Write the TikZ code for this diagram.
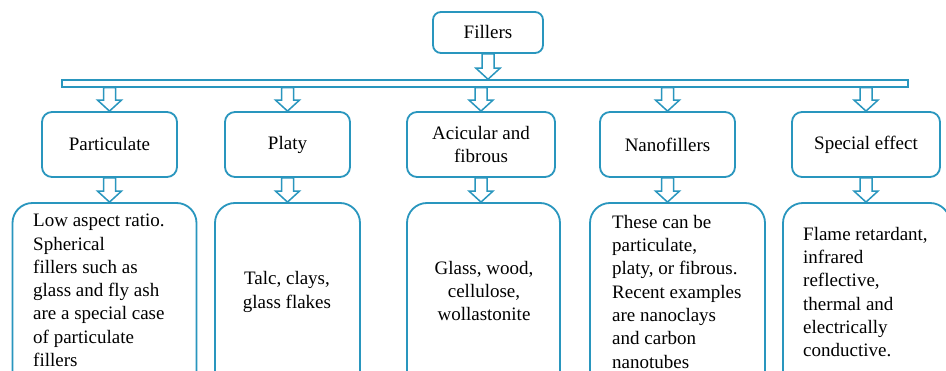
\documentclass[tikz,border=0pt]{standalone}
\usepackage{fontspec}
\setmainfont{Liberation Serif}
\newfontfamily\tnr{Liberation Serif}
\usetikzlibrary{calc}
\definecolor{fb}{RGB}{41,150,190}
\tikzset{
  box/.style={draw=fb, line width=1.8pt, fill=white, rounded corners=10pt, inner sep=2pt, align=center, font=\tnr\fontsize{19}{23}\selectfont},
  descbox/.style={draw=fb, line width=1.8pt, fill=white, rounded corners=20pt},
  barbox/.style={draw=fb, line width=1.5pt, fill=white, inner sep=0pt},
  harrow/.style={draw=fb, line width=1.5pt, fill=white, line join=miter},
  desctext/.style={inner sep=0pt, font=\tnr\fontsize{19}{23.3}\selectfont},
}
\newcommand{\hollowarrow}[3]{%
  \path[harrow] let \p1=(#1), \p2=(#2), \p3=(#3) in
    (\x3-6pt,\y1) -- (\x3+6pt,\y1) -- (\x3+6pt,\y2+11pt) -- (\x3+12pt,\y2+11pt)
    -- (\x3,\y2) -- (\x3-12pt,\y2+11pt) -- (\x3-6pt,\y2+11pt) -- cycle;}
\begin{document}
\begin{tikzpicture}[x=1pt,y=-1pt]
\useasboundingbox (0,0) rectangle (946,371);
\begin{scope}
\clip (0,0) rectangle (946,371);
\fill[white] (0,0) rectangle (946,371);
% top
\node[box, minimum width=110pt, minimum height=41pt, rounded corners=8pt] (fillers) at (488,32.5) {Fillers};
\node[barbox, minimum width=846pt, minimum height=7pt] (bar) at (485,83.5) {};
% middle row
\node[box, minimum width=135pt, minimum height=65pt] (part) at (109.5,144.5) {Particulate};
\node[box, minimum width=125pt, minimum height=65pt] (platy) at (287.5,144.5) {Platy};
\node[box, minimum width=148pt, minimum height=65pt] (acic) at (481,144.5) {Acicular and\\fibrous};
\node[box, minimum width=135pt, minimum height=65pt] (nano) at (667.5,144.5) {Nanofillers};
\node[box, minimum width=148pt, minimum height=65pt] (spec) at (866,144.5) {Special effect};
% bottom row
\node[descbox, minimum width=184pt, minimum height=197pt] (partD) at (104.5,301.5) {};
\node[descbox, minimum width=145pt, minimum height=197pt] (platyD) at (287.5,301.5) {};
\node[descbox, minimum width=153pt, minimum height=197pt] (acicD) at (483.5,301.5) {};
\node[descbox, minimum width=175pt, minimum height=197pt] (nanoD) at (677.5,301.5) {};
\node[descbox, minimum width=167pt, minimum height=197pt] (specD) at (866.5,301.5) {};
% texts
\node[desctext, anchor=north west, align=left] (partT) at (33,214) {Low aspect ratio.\\Spherical\\fillers such as\\glass and fly ash\\are a special case\\of particulate\\fillers};
\node[desctext, align=center] (platyT) at (287,292) {Talc, clays,\\glass flakes};
\node[desctext, align=center] (acicT) at (484,291) {Glass, wood,\\cellulose,\\wollastonite};
\node[desctext, anchor=north west, align=left] (nanoT) at (612,215) {These can be\\particulate,\\platy, or fibrous.\\Recent examples\\are nanoclays\\and carbon\\nanotubes};
\node[desctext, anchor=north west, align=left] (specT) at (803,227) {Flame retardant,\\infrared\\reflective,\\thermal and\\electrically\\conductive.};
% arrows
\hollowarrow{fillers.south}{bar.north}{fillers.south}
\foreach \b in {part,platy,acic,nano,spec}{
  \hollowarrow{bar.south}{\b.north}{\b.north}
  \hollowarrow{\b.south}{\b D.north}{\b.south}
}
\end{scope}
\end{tikzpicture}
\end{document}
